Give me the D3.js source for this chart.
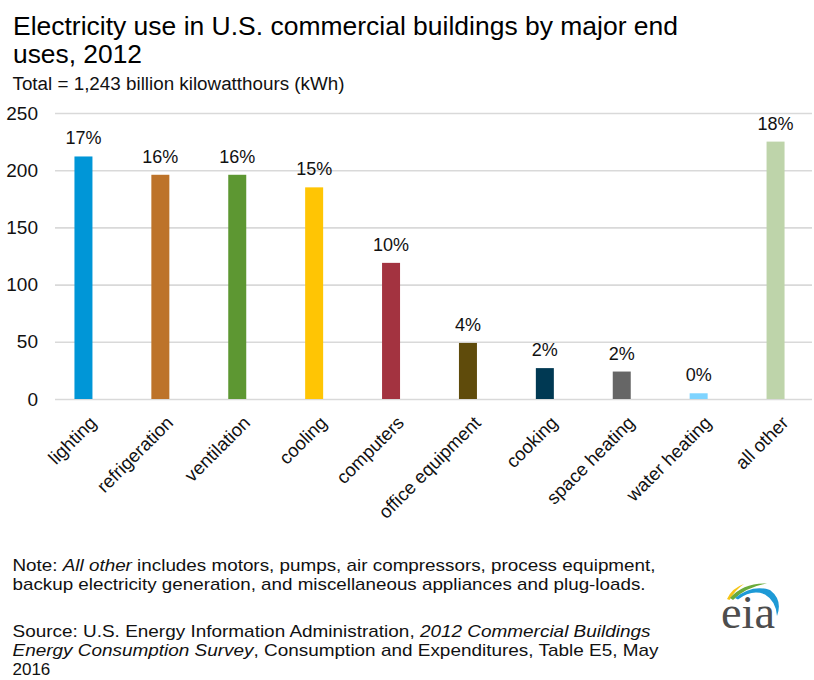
<!DOCTYPE html>
<html>
<head>
<meta charset="utf-8">
<script src="https://cdn.jsdelivr.net/npm/d3@7"></script>
<style>
  html, body { margin: 0; padding: 0; background: #fff; }
  svg { display: block; font-family: "Liberation Sans", Arial, sans-serif; }
</style>
</head>
<body>
<svg id="chart" width="814" height="680"></svg>
<script>
// Electricity consumption by end use, billion kWh (CBECS 2012)
const categories = ["lighting", "refrigeration", "ventilation", "cooling", "computers",
  "office equipment", "cooking", "space heating", "water heating", "all other"];
const values = [212, 196, 196, 185, 119, 49, 27, 24, 5, 225];
const colors = ["#0096d7", "#bd732a", "#5d9732", "#ffc504", "#a33340",
  "#5f4b0b", "#003953", "#666666", "#7fd4ff", "#bed4aa"];
const total = 1243;
const yTicks = [0, 50, 100, 150, 200, 250];

const titleLines = ["Electricity use in U.S. commercial buildings by major end", "uses, 2012"];
const subtitle = "Total = 1,243 billion kilowatthours (kWh)";

const svg = d3.select("#chart");
const textColor = "#111";

// Title block
const titleWidths = [665, 129];
titleLines.forEach((t, i) => {
  svg.append("text")
    .attr("x", 13).attr("y", 35 + i * 28)
    .attr("font-size", 25).attr("fill", "#000")
    .attr("textLength", titleWidths[i]).attr("lengthAdjust", "spacingAndGlyphs")
    .text(t);
});
svg.append("text")
  .attr("x", 12.5).attr("y", 90)
  .attr("font-size", 18).attr("fill", textColor)
  .attr("textLength", 332).attr("lengthAdjust", "spacingAndGlyphs")
  .text(subtitle);

// Scales
const x = d3.scaleBand()
  .domain(categories)
  .range([45, 814])
  .paddingInner(0.766)
  .paddingOuter(0.383);

const y = d3.scaleLinear().domain([0, 250]).range([399, 113]);

// Gridlines + y tick labels
const yAxis = svg.append("g")
  .attr("transform", "translate(55,0)")
  .call(d3.axisLeft(y).tickValues(yTicks).tickSize(-(812 - 55)).tickPadding(17));
yAxis.select(".domain").remove();
yAxis.selectAll(".tick line").attr("stroke", "#d9d9d9").attr("stroke-width", 1.6);
yAxis.selectAll(".tick text")
  .attr("font-size", 19).attr("fill", textColor)
  .attr("font-family", "\"Liberation Sans\", Arial, sans-serif");

// Bars
const data = categories.map((c, i) => ({ cat: c, value: values[i], color: colors[i] }));
svg.append("g").selectAll("rect")
  .data(data).join("rect")
  .attr("x", d => x(d.cat))
  .attr("width", x.bandwidth())
  .attr("y", d => y(d.value))
  .attr("height", d => y(0) - y(d.value))
  .attr("fill", d => d.color);

// Share-of-total labels above the bars
svg.append("g").selectAll("text")
  .data(data).join("text")
  .attr("x", d => x(d.cat) + x.bandwidth() / 2)
  .attr("y", d => y(d.value) - 12)
  .attr("text-anchor", "middle")
  .attr("font-size", 18).attr("fill", textColor)
  .text(d => Math.round(d.value / total * 100) + "%");

// Rotated category labels
svg.append("g").selectAll("text")
  .data(data).join("text")
  .attr("transform", d => `translate(${x(d.cat) + x.bandwidth() / 2 + 14},424) rotate(-45)`)
  .attr("text-anchor", "end")
  .attr("font-size", 18.5).attr("fill", textColor)
  .text(d => d.cat);

// Footnotes
const notes = [
  { y: 571, w: 643, parts: [["Note: ", false], ["All other", true], [" includes motors, pumps, air compressors, process equipment,", false]] },
  { y: 590, w: 633, parts: [["backup electricity generation, and miscellaneous appliances and plug-loads.", false]] },
  { y: 637, w: 638, parts: [["Source: U.S. Energy Information Administration, ", false], ["2012 Commercial Buildings", true]] },
  { y: 656, w: 646, parts: [["Energy Consumption Survey", true], [", Consumption and Expenditures, Table E5, May", false]] },
  { y: 675, w: null, parts: [["2016", false]] }
];
notes.forEach(n => {
  const t = svg.append("text")
    .attr("x", 12.5).attr("y", n.y)
    .attr("font-size", 17).attr("fill", textColor);
  if (n.w) t.attr("textLength", n.w).attr("lengthAdjust", "spacingAndGlyphs");
  n.parts.forEach(([s, it]) => {
    t.append("tspan").attr("font-style", it ? "italic" : "normal").text(s);
  });
});

// eia logo
const logo = svg.append("g");
logo.append("path")
  .attr("d", "M727,599 Q732,588 744,584 Q735,590 729.5,600 Z")
  .attr("fill", "#f5c518");
logo.append("path")
  .attr("d", "M730,598 Q743,583 767,583.5 Q746,587 733,600 Z")
  .attr("fill", "#6aab3a");
logo.append("path")
  .attr("d", "M735,598 Q752,584 770,590 Q783,600 777,616 Q776,601 765,594.5 Q752,589 738,599.5 Z")
  .attr("fill", "#1e9ad6");
logo.append("text")
  .attr("x", 721).attr("y", 628)
  .attr("font-family", "\"Liberation Serif\", \"DejaVu Serif\", serif")
  .attr("font-size", 46).attr("fill", "#4d4d4d")
  .attr("textLength", 54).attr("lengthAdjust", "spacingAndGlyphs")
  .text("eia");
</script>
</body>
</html>
